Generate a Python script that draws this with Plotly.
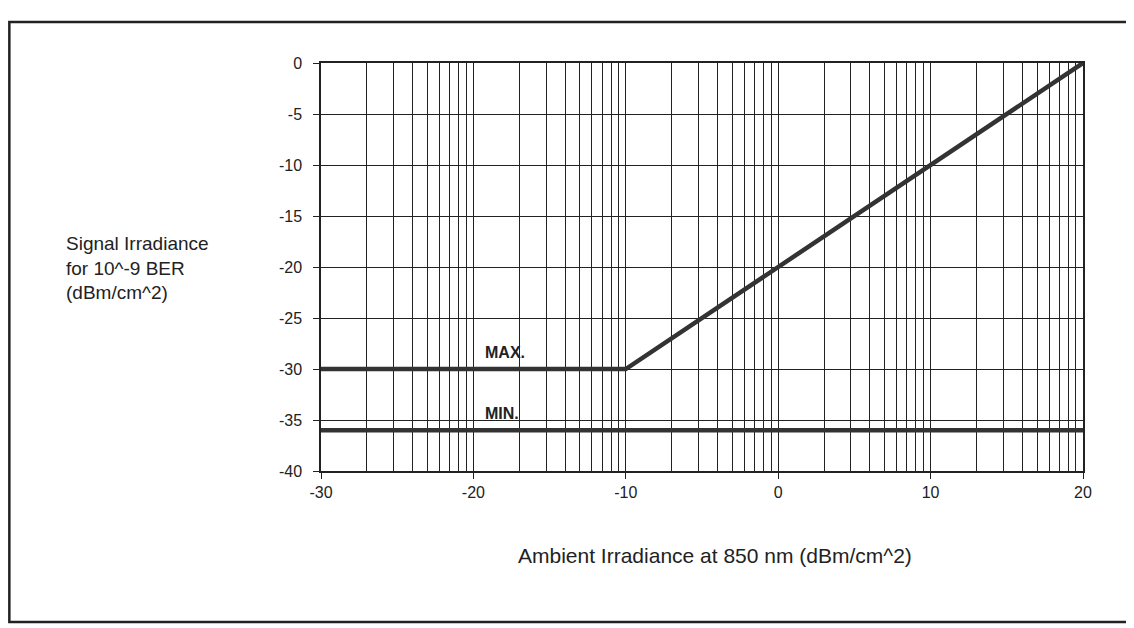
import plotly.graph_objects as go

# Data
max_x = [-30, -10, 20]
max_y = [-30, -30, 0]
min_x = [-30, 20]
min_y = [-36, -36]

x_major_ticks = [-30, -20, -10, 0, 10, 20]
x_tick_labels = ["-30", "-20", "-10", "0", "10", "20"]
y_ticks = [0, -5, -10, -15, -20, -25, -30, -35, -40]
y_tick_labels = ["0", "-5", "-10", "-15", "-20", "-25", "-30", "-35", "-40"]
# log-style grid within each 10 dB decade: 10*log10(k), k = 2..9
decade_offsets = [3.01, 4.77, 6.02, 6.99, 7.78, 8.45, 9.03, 9.54]
x_minor_grid = [d + o for d in x_major_ticks[:-1] for o in decade_offsets]

FONT = "Liberation Sans, Arial, Helvetica, sans-serif"
INK = "#222222"

fig = go.Figure()
fig.add_trace(go.Scatter(x=max_x, y=max_y, mode="lines",
                         line=dict(color="#333333", width=4.5), name="MAX.",
                         showlegend=False))
fig.add_trace(go.Scatter(x=min_x, y=min_y, mode="lines",
                         line=dict(color="#333333", width=4.5), name="MIN.",
                         showlegend=False))

fig.add_annotation(x=-19.4, y=-28.4, text="<b>MAX.</b>", showarrow=False,
                   xanchor="left", yanchor="middle",
                   font=dict(family=FONT, size=16, color=INK))
fig.add_annotation(x=-19.4, y=-34.4, text="<b>MIN.</b>", showarrow=False,
                   xanchor="left", yanchor="middle",
                   font=dict(family=FONT, size=16, color=INK))

fig.add_annotation(xref="paper", yref="paper", x=-0.337, y=0.4975,
                   text="Signal Irradiance<br>for 10^-9 BER<br>(dBm/cm^2)",
                   showarrow=False, xanchor="left", yanchor="middle", align="left",
                   font=dict(family=FONT, size=19, color=INK))
fig.add_annotation(xref="paper", yref="paper", x=0.517, y=-0.208,
                   text="Ambient Irradiance at 850 nm (dBm/cm^2)",
                   showarrow=False, xanchor="center", yanchor="middle",
                   font=dict(family=FONT, size=21, color=INK))

# outer frame (right side runs off the page, as in the scan)
fig.add_shape(type="rect", xref="paper", yref="paper",
              x0=-0.409, x1=1.12, y0=-0.370, y1=1.1005,
              line=dict(color="#222222", width=2.5))

fig.update_xaxes(range=[-30, 20], tickmode="array", tickvals=x_major_ticks,
                 ticktext=x_tick_labels, showgrid=True, gridcolor=INK, gridwidth=1,
                 zeroline=False, showline=True, linecolor=INK, linewidth=1.5,
                 mirror=True, ticks="outside", ticklen=6, tickcolor=INK,
                 tickfont=dict(family=FONT, size=16, color=INK),
                 minor=dict(tickmode="array", tickvals=x_minor_grid, showgrid=True,
                            gridcolor=INK, gridwidth=1, ticks=""))
fig.update_yaxes(range=[-40, 0], tickmode="array", tickvals=y_ticks,
                 ticktext=y_tick_labels,
                 showgrid=True, gridcolor=INK, gridwidth=1, zeroline=False,
                 showline=True, linecolor=INK, linewidth=1.5, mirror=True,
                 ticks="outside", ticklen=6, tickcolor=INK, ticklabelstandoff=8,
                 tickfont=dict(family=FONT, size=16, color=INK))

# page body has an 8px margin, so offset margins to land the plot area
fig.update_layout(width=1134, height=628,
                  margin=dict(l=313, r=59, t=55, b=165),
                  paper_bgcolor="white", plot_bgcolor="white",
                  showlegend=False)

fig.write_html("out.html")
